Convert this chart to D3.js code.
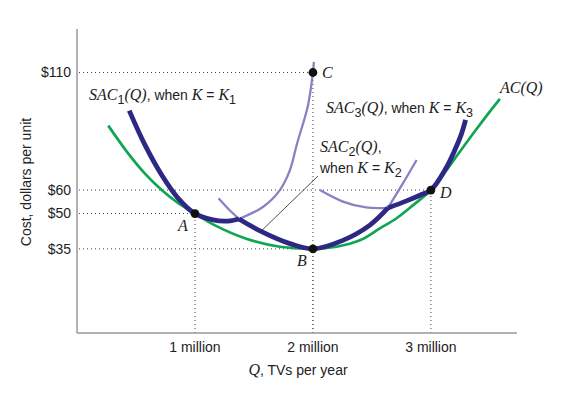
<!DOCTYPE html>
<html>
<head>
<meta charset="utf-8">
<script src="https://cdn.jsdelivr.net/npm/d3@7"></script>
<style>
  html, body { margin: 0; padding: 0; background: #fff; }
  svg { display: block; }
</style>
</head>
<body>
<svg id="chart" width="579" height="398"></svg>
<script>
// axis ticks
const qTicks = [1, 2, 3]
const qTickLabels = ['1 million', '2 million', '3 million']
const costTicks = [35, 50, 60, 110]
const costTickLabels = ['$35', '$50', '$60', '$110']

// labelled points [q, cost]
const pointIds = ['A', 'B', 'C', 'D']
const pointQ = [1, 2, 2, 3]
const pointCost = [50, 35, 110, 60]

// long-run average cost AC(Q)
const acCurve = [
  [0.265, 87.4], [0.435, 75.5], [0.576, 67.0], [0.718, 60.0], [0.856, 54.5],
  [1.0, 50], [1.153, 45.4], [1.441, 39.2], [1.72, 35.9], [2.0, 35],
  [2.2, 35.9], [2.398, 38.6], [2.568, 43.7], [2.709, 48.0], [2.85, 53.6],
  [3.0, 60], [3.126, 68.0], [3.231, 75.3], [3.373, 85.0], [3.514, 94.3],
  [3.585, 98.8]
]

// short-run curves, split into envelope (thick) and off-envelope (light) parts
const sac1Thick = [
  [0.443, 93.8], [0.576, 79.2], [0.718, 66.4], [0.856, 56.6], [1.0, 50],
  [1.153, 47.3], [1.28, 46.8], [1.373, 47.7]
]
const sac1Light = [
  [1.373, 47.7], [1.576, 52.8], [1.72, 60.0], [1.805, 68.5], [1.864, 79.5],
  [1.958, 96.0], [2.0, 110], [2.008, 114.5]
]
const sac2LightLeft = [[1.2, 56.5], [1.29, 51.6], [1.373, 47.7]]
const sac2Thick = [
  [1.373, 47.7], [1.565, 42.3], [1.805, 37.2], [2.0, 35], [2.254, 38.6],
  [2.483, 45.1], [2.636, 52.4]
]
const sac2LightRight = [[2.636, 52.4], [2.76, 62.6], [2.879, 72.8]]
const sac3Light = [[2.059, 60.0], [2.254, 55.1], [2.45, 52.6], [2.636, 52.4]]
const sac3Thick = [
  [2.636, 52.4], [2.794, 55.4], [2.907, 57.8], [3.0, 60], [3.119, 68.5],
  [3.203, 77.0], [3.26, 84.0], [3.294, 89.8]
]

const svg = d3.select('#chart')

const x = d3.scaleLinear().domain([0, 3.73]).range([77, 517])
const y = d3.scaleLinear().domain([-0.8, 128.5]).range([333, 29])

const line = d3.line()
  .x(d => x(d[0]))
  .y(d => y(d[1]))
  .curve(d3.curveCatmullRom.alpha(0.5))

const SANS = '"Liberation Sans", Arial, Helvetica, sans-serif'
const SERIF = '"Liberation Serif", "Times New Roman", serif'
const GREEN = '#0ea650'
const NAVY = '#2c2883'
const LIGHT = '#8c80c4'

// dotted guide lines to each point
const guides = svg.append('g')
  .attr('stroke', '#444')
  .attr('stroke-width', 1)
  .attr('stroke-dasharray', '1,3')
  .attr('fill', 'none')

pointIds.forEach((id, i) => {
  guides.append('line')
    .attr('x1', x(0) + 2).attr('x2', x(pointQ[i]))
    .attr('y1', y(pointCost[i])).attr('y2', y(pointCost[i]))
  guides.append('line')
    .attr('x1', x(pointQ[i])).attr('x2', x(pointQ[i]))
    .attr('y1', y.range()[0]).attr('y2', y(pointCost[i]))
})

// axes (no tick marks, just the frame lines and labels)
svg.append('line')
  .attr('x1', x(0)).attr('x2', x(0))
  .attr('y1', y.range()[1]).attr('y2', y.range()[0])
  .attr('stroke', '#999').attr('stroke-width', 1.5)
svg.append('line')
  .attr('x1', x(0)).attr('x2', x.range()[1])
  .attr('y1', y.range()[0]).attr('y2', y.range()[0])
  .attr('stroke', '#999').attr('stroke-width', 1.5)

svg.append('g').selectAll('text')
  .data(costTicks)
  .join('text')
  .attr('x', x(0) - 6)
  .attr('y', d => y(d))
  .attr('dy', '0.35em')
  .attr('text-anchor', 'end')
  .attr('font-family', SANS)
  .attr('font-size', 14)
  .attr('fill', '#222')
  .text((d, i) => costTickLabels[i])

svg.append('g').selectAll('text')
  .data(qTicks)
  .join('text')
  .attr('x', d => x(d))
  .attr('y', 352)
  .attr('text-anchor', 'middle')
  .attr('font-family', SANS)
  .attr('font-size', 14)
  .attr('fill', '#222')
  .text((d, i) => qTickLabels[i])

svg.append('text')
  .attr('transform', 'translate(31,182) rotate(-90)')
  .attr('text-anchor', 'middle')
  .attr('font-family', SANS)
  .attr('font-size', 14)
  .attr('fill', '#222')
  .text('Cost, dollars per unit')

const xTitle = svg.append('text')
  .attr('x', 298).attr('y', 375)
  .attr('text-anchor', 'middle')
  .attr('font-family', SANS)
  .attr('font-size', 14)
  .attr('fill', '#222')
xTitle.append('tspan').attr('font-family', SERIF).attr('font-style', 'italic').attr('font-size', 16).text('Q')
xTitle.append('tspan').text(', TVs per year')

// curves
svg.append('path').datum(acCurve).attr('d', line)
  .attr('fill', 'none').attr('stroke', GREEN).attr('stroke-width', 2.7)

const lightParts = [sac1Light, sac2LightLeft, sac2LightRight, sac3Light]
svg.append('g').selectAll('path')
  .data(lightParts)
  .join('path')
  .attr('d', line)
  .attr('fill', 'none')
  .attr('stroke', LIGHT)
  .attr('stroke-width', 2.3)

const thickParts = [sac1Thick, sac2Thick, sac3Thick]
svg.append('g').selectAll('path')
  .data(thickParts)
  .join('path')
  .attr('d', line)
  .attr('fill', 'none')
  .attr('stroke', NAVY)
  .attr('stroke-width', 4.8)
  .attr('stroke-linejoin', 'round')

// leader from SAC2 label to its curve
svg.append('line')
  .attr('x1', x(1.565)).attr('y1', y(42.3) - 1)
  .attr('x2', 318).attr('y2', 176)
  .attr('stroke', '#222').attr('stroke-width', 0.8)

// points
svg.append('g').selectAll('circle')
  .data(pointIds)
  .join('circle')
  .attr('cx', (d, i) => x(pointQ[i]))
  .attr('cy', (d, i) => y(pointCost[i]))
  .attr('r', 4.4)
  .attr('fill', '#111')

const pointLabelOffsets = { A: [-17, 17], B: [-16, 17], C: [9, 6], D: [9, 8] }
svg.append('g').selectAll('text')
  .data(pointIds)
  .join('text')
  .attr('x', (d, i) => x(pointQ[i]) + pointLabelOffsets[d][0])
  .attr('y', (d, i) => y(pointCost[i]) + pointLabelOffsets[d][1])
  .attr('font-family', SERIF)
  .attr('font-style', 'italic')
  .attr('font-size', 16)
  .attr('fill', '#222')
  .text(d => d)

// math-style labels: [text, kind] with kind i = italic serif, s = sans, b = subscript
function mathLabel(px, py, parts) {
  const t = svg.append('text').attr('x', px).attr('y', py).attr('fill', '#222')
  let shifted = false
  parts.forEach(([txt, kind]) => {
    const s = t.append('tspan').text(txt)
    if (kind === 'i') {
      s.attr('font-family', SERIF).attr('font-style', 'italic').attr('font-size', 16)
    } else {
      s.attr('font-family', SANS).attr('font-size', kind === 'b' ? 12.5 : 14)
    }
    if (kind === 'b' && !shifted) { s.attr('dy', 4); shifted = true }
    else if (kind !== 'b' && shifted) { s.attr('dy', -4); shifted = false }
  })
  return t
}

mathLabel(89, 100, [['SAC', 'i'], ['1', 'b'], ['(Q)', 'i'], [', when ', 's'], ['K', 'i'], [' = ', 's'], ['K', 'i'], ['1', 'b']])
mathLabel(326, 113, [['SAC', 'i'], ['3', 'b'], ['(Q)', 'i'], [', when ', 's'], ['K', 'i'], [' = ', 's'], ['K', 'i'], ['3', 'b']])
mathLabel(320, 152, [['SAC', 'i'], ['2', 'b'], ['(Q)', 'i'], [',', 's']])
mathLabel(320, 173, [['when ', 's'], ['K', 'i'], [' = ', 's'], ['K', 'i'], ['2', 'b']])
mathLabel(500, 93, [['AC(Q)', 'i']])
</script>
</body>
</html>
